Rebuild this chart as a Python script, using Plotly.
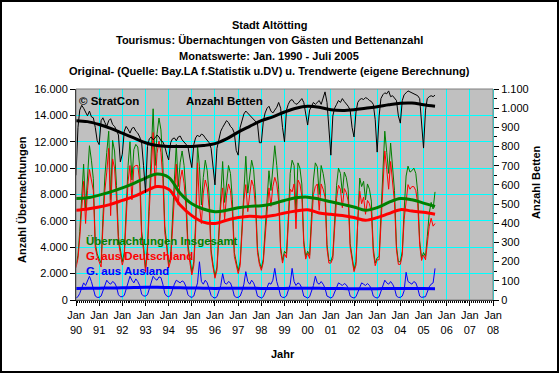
import pandas as pd
import plotly.graph_objects as go

# ---------------- data (monthly, Jan 1990 - Jul 2005) ----------------
start_month = "1990-01-01"

insgesamt = (
    [2600, 3400, 5200, 8100, 10300, 6900, 9800, 11700, 10600, 9200, 4300, 3500]      # 1990
    + [3100, 2800, 6200, 9400, 11200, 12800, 7600, 12100, 11300, 8700, 4800, 3900]   # 1991
    + [2900, 3600, 7100, 10200, 12000, 9100, 11400, 11800, 11600, 10100, 5200, 4100] # 1992
    + [2400, 4100, 7600, 11300, 14500, 10200, 12600, 13800, 12900, 10400, 5600, 4300]# 1993
    + [2700, 3300, 6400, 9100, 11800, 8600, 10400, 11300, 10200, 8000, 4200, 3100]   # 1994
    + [2100, 2900, 5800, 11700, 10100, 7200, 9300, 10600, 9800, 7900, 3800, 2700]    # 1995
    + [1800, 2500, 5100, 8300, 10500, 7400, 9100, 10200, 9600, 7600, 3600, 2800]     # 1996
    + [2200, 2900, 5400, 8800, 10900, 8100, 9200, 10600, 9900, 7900, 3900, 2900]     # 1997
    + [2400, 3100, 5300, 7600, 9800, 8300, 10100, 11700, 10200, 8400, 4000, 3000]    # 1998
    + [3700, 3500, 6100, 9600, 10600, 10200, 6500, 10400, 10000, 8800, 4500, 3300]   # 1999
    + [3700, 3400, 6300, 9100, 10400, 10100, 8000, 10200, 9600, 8700, 4200, 3000]    # 2000
    + [2950, 3400, 6000, 8700, 10000, 9600, 8100, 9700, 9300, 8400, 4300, 3200]      # 2001
    + [2300, 2900, 6600, 9250, 8600, 9000, 7600, 8800, 8400, 7500, 3900, 2800]       # 2002
    + [3200, 3300, 6400, 9800, 12800, 11200, 9600, 11900, 10100, 8300, 4100, 2900]   # 2003
    + [2900, 3700, 6800, 9400, 10150, 9700, 9800, 10000, 9600, 8200, 4500, 3200]     # 2004
    + [3600, 3300, 4800, 6600, 7400, 6900, 8200]                                     # 2005
)

deutschland = (
    [2450, 3150, 4700, 7200, 9000, 5800, 8300, 9900, 9200, 8300, 4000, 3300]
    + [2900, 2500, 5500, 8300, 9700, 11500, 6400, 10700, 10000, 7700, 4400, 3650]
    + [2650, 3250, 6300, 9000, 10200, 7600, 10100, 10200, 10200, 9000, 4750, 3800]
    + [2100, 3700, 6700, 9900, 12700, 8600, 11100, 12050, 11200, 9200, 5100, 4000]
    + [2450, 2950, 5600, 7900, 10300, 7200, 9100, 9850, 8850, 7000, 3800, 2850]
    + [1900, 2600, 5100, 10400, 7200, 5800, 8100, 9100, 8500, 7000, 3450, 2500]
    + [1650, 2250, 4500, 7200, 8500, 6100, 7900, 8800, 8300, 6700, 3300, 2600]
    + [2000, 2600, 4750, 7600, 8750, 6700, 8000, 9100, 8600, 7000, 3600, 2700]
    + [2250, 2850, 4700, 6600, 8500, 7100, 8600, 9300, 8800, 7500, 3700, 2800]
    + [3500, 3200, 5400, 8400, 8200, 8800, 5400, 9100, 8800, 7900, 4200, 3100]
    + [3550, 3150, 5600, 8000, 8600, 8800, 6800, 8800, 8400, 7800, 3900, 2800]
    + [2800, 3150, 5400, 7700, 8700, 8400, 7000, 8450, 8150, 7500, 4000, 3000]
    + [2150, 2650, 6000, 8250, 7300, 7800, 6500, 7550, 7300, 6650, 3600, 2600]
    + [3050, 3050, 5800, 8700, 11300, 9900, 8400, 10500, 8900, 7400, 3800, 2700]
    + [2700, 3400, 6100, 7300, 8750, 8400, 8600, 8600, 8300, 7300, 4200, 3000]
    + [3400, 3050, 4200, 5600, 6200, 5600, 5800]
)

ausland = (
    [150, 250, 500, 900, 1300, 1100, 1500, 1800, 1400, 900, 300, 200]
    + [200, 300, 700, 1100, 1500, 1300, 1200, 1400, 1300, 1000, 400, 250]
    + [250, 350, 800, 1200, 1800, 1500, 1300, 1600, 1400, 1100, 450, 300]
    + [300, 400, 900, 1400, 1800, 1600, 1500, 1750, 1700, 1200, 500, 300]
    + [250, 350, 800, 1200, 1500, 1400, 1300, 1450, 1350, 1000, 400, 250]
    + [200, 300, 700, 1300, 2900, 1400, 1200, 1500, 1300, 900, 350, 200]
    + [150, 250, 600, 1100, 2000, 1300, 1200, 1400, 1300, 900, 300, 200]
    + [200, 300, 650, 1200, 2150, 1400, 1200, 1500, 1300, 900, 300, 200]
    + [150, 250, 600, 1000, 1300, 1200, 1500, 2400, 1400, 900, 300, 200]
    + [200, 300, 700, 1200, 2400, 1400, 1100, 1300, 1200, 900, 300, 200]
    + [150, 250, 700, 1100, 1800, 1300, 1200, 1400, 1200, 900, 300, 200]
    + [150, 250, 600, 1000, 1300, 1200, 1100, 1250, 1150, 900, 300, 200]
    + [150, 250, 600, 1000, 1300, 1200, 1100, 1250, 1100, 850, 300, 200]
    + [150, 250, 600, 1100, 1500, 1300, 1200, 1400, 1200, 900, 300, 200]
    + [200, 300, 700, 2100, 1400, 1300, 1200, 1400, 1300, 900, 300, 200]
    + [200, 250, 600, 1000, 1200, 1300, 2400]
)

betten = (
    [650, 900, 990, 1015, 1000, 975, 960, 985, 955, 950, 900, 830]
    + [810, 935, 950, 925, 905, 935, 945, 915, 905, 885, 860, 720]
    + [760, 880, 905, 890, 870, 895, 900, 880, 870, 850, 820, 700]
    + [560, 800, 840, 850, 835, 845, 860, 850, 830, 825, 800, 760]
    + [730, 820, 840, 845, 830, 850, 855, 835, 825, 815, 800, 740]
    + [690, 810, 845, 860, 850, 865, 860, 845, 835, 820, 790, 700]
    + [600, 790, 840, 880, 900, 920, 935, 925, 905, 895, 870, 780]
    + [755, 900, 940, 970, 985, 975, 960, 950, 945, 935, 920, 820]
    + [820, 930, 975, 1000, 1010, 985, 975, 990, 1005, 1030, 1000, 900]
    + [825, 990, 1020, 1040, 1045, 1030, 1020, 1025, 1035, 1050, 1030, 960]
    + [912, 990, 1010, 1030, 1020, 1030, 1040, 1020, 1050, 1085, 1030, 880]
    + [755, 960, 1000, 1020, 1040, 1030, 1050, 1035, 1025, 1010, 990, 900]
    + [850, 980, 1030, 1045, 1050, 1045, 1055, 1050, 1040, 1035, 1020, 940]
    + [771, 960, 1050, 1070, 1080, 1075, 1090, 1060, 1065, 1055, 1040, 960]
    + [922, 1040, 1070, 1080, 1090, 1085, 1080, 1075, 1070, 1065, 1050, 930]
    + [792, 990, 1050, 1060, 1065, 1060, 1068]
)

# trend values (half-yearly, Jan & Jul, 1990 - Jul 2005)
trend_insgesamt = [7700, 7750, 7950, 8200, 8500, 8850, 9250, 9550, 9300, 8100,
                   7300, 6900, 6700, 6800, 7000, 7100, 7150, 7300, 7550, 7750,
                   7800, 7650, 7450, 7250, 7050, 6800, 7000, 7400, 7700, 7600,
                   7350, 7100]
trend_deutschland = [6800, 6900, 7050, 7250, 7550, 7850, 8250, 8600, 8400, 7200,
                     6400, 5900, 5800, 6050, 6250, 6350, 6300, 6400, 6600, 6750,
                     6850, 6600, 6500, 6400, 6250, 6050, 6250, 6550, 6850, 6750,
                     6650, 6500]
trend_ausland = [880, 890, 900, 910, 920, 940, 960, 960, 940, 920,
                 910, 900, 880, 890, 900, 890, 880, 880, 880, 890,
                 900, 890, 870, 865, 860, 860, 860, 870, 880, 880,
                 870, 860]
trend_betten = [935, 930, 915, 895, 870, 845, 820, 805, 800, 800,
                800, 805, 815, 840, 875, 905, 935, 955, 980, 1000,
                1010, 1005, 992, 988, 992, 1000, 1008, 1018, 1026, 1027,
                1018, 1010]

year_ticks = list(range(1990, 2009))
tick_labels = ["Jan<br>%02d" % (y % 100) for y in year_ticks]

title_lines = [
    "Stadt Altötting",
    "Tourismus: Übernachtungen von Gästen und Bettenanzahl",
    "Monatswerte: Jan. 1990 - Juli 2005",
    "Original- (Quelle: Bay.LA f.Statistik u.DV) u. Trendwerte (eigene Berechnung)",
]

# ---------------- figure ----------------
months = pd.date_range(start_month, periods=len(insgesamt), freq="MS")
half_years = pd.date_range(start_month, periods=len(trend_insgesamt), freq="6MS")
tickvals = [pd.Timestamp(f"{y}-01-01") for y in year_ticks]

FONT = "Liberation Sans, Arial, sans-serif"
GREEN, RED, BLUE, BLACK = "#008000", "#FF0000", "#0000FF", "#000000"
GRID = "#00FFFF"

fig = go.Figure()
fig.add_trace(go.Scatter(x=months, y=insgesamt, mode="lines",
                         line=dict(color=GREEN, width=1)))
fig.add_trace(go.Scatter(x=months, y=deutschland, mode="lines",
                         line=dict(color=RED, width=1)))
fig.add_trace(go.Scatter(x=months, y=ausland, mode="lines",
                         line=dict(color=BLUE, width=1)))
fig.add_trace(go.Scatter(x=months, y=betten, mode="lines", yaxis="y2",
                         line=dict(color=BLACK, width=1)))
fig.add_trace(go.Scatter(x=half_years, y=trend_insgesamt, mode="lines",
                         line=dict(color=GREEN, width=3, shape="spline")))
fig.add_trace(go.Scatter(x=half_years, y=trend_deutschland, mode="lines",
                         line=dict(color=RED, width=3, shape="spline")))
fig.add_trace(go.Scatter(x=half_years, y=trend_ausland, mode="lines",
                         line=dict(color=BLUE, width=3, shape="spline")))
fig.add_trace(go.Scatter(x=half_years, y=trend_betten, mode="lines", yaxis="y2",
                         line=dict(color=BLACK, width=3, shape="spline")))

W, H = 560, 374
L, R, T, B = 76, 67, 89, 74
pw, ph = W - L - R, H - T - B


def px(xp):
    return (xp - L) / pw


def py(yp):
    return (H - B - yp) / ph


annotations = []
for i, line in enumerate(title_lines):
    annotations.append(dict(text="<b>%s</b>" % line, x=px(269), y=py(25 + i * 15.3),
                            xref="paper", yref="paper", showarrow=False,
                            xanchor="center", yanchor="middle",
                            font=dict(size=11, color=BLACK, family=FONT)))

inner = [
    ("© StratCon", 77, 101, BLACK),
    ("Anzahl Betten", 184, 101, BLACK),
    ("Übernachtungen Insgesamt", 84, 241, GREEN),
    ("G. aus Deutschland", 84, 256, RED),
    ("G. aus Ausland", 84, 271, BLUE),
]
for txt, xx, yy, col in inner:
    annotations.append(dict(text="<b>%s</b>" % txt, x=px(xx), y=py(yy),
                            xref="paper", yref="paper", showarrow=False,
                            xanchor="left", yanchor="middle",
                            font=dict(size=11.5, color=col, family=FONT)))

annotations.append(dict(text="<b>Anzahl Übernachtungen</b>", x=px(22), y=py(200),
                        xref="paper", yref="paper", showarrow=False, textangle=-90,
                        xanchor="center", yanchor="middle",
                        font=dict(size=11, color=BLACK, family=FONT)))
annotations.append(dict(text="<b>Anzahl Betten</b>", x=px(536), y=py(182),
                        xref="paper", yref="paper", showarrow=False, textangle=-90,
                        xanchor="center", yanchor="middle",
                        font=dict(size=11, color=BLACK, family=FONT)))
annotations.append(dict(text="<b>Jahr</b>", x=px(283), y=py(354),
                        xref="paper", yref="paper", showarrow=False,
                        xanchor="center", yanchor="middle",
                        font=dict(size=11, color=BLACK, family=FONT)))

shapes = [
    # plot area frame
    dict(type="rect", xref="paper", yref="paper", x0=0, x1=1, y0=0, y1=1,
         line=dict(color="#808080", width=1), layer="above"),
    # outer chart border
    dict(type="rect", xref="paper", yref="paper",
         x0=px(1), x1=px(558), y0=py(372), y1=py(1),
         line=dict(color=BLACK, width=2), layer="above"),
]

fig.update_layout(
    width=W, height=H,
    margin=dict(l=L, r=R, t=T, b=B, pad=0),
    paper_bgcolor="white",
    plot_bgcolor="#C0C0C0",
    showlegend=False,
    separators=",.",
    font=dict(family=FONT, size=11, color=BLACK),
    annotations=annotations,
    shapes=shapes,
    xaxis=dict(
        type="date",
        range=[pd.Timestamp("1990-01-01"), pd.Timestamp("2008-01-01")],
        tickmode="array", tickvals=tickvals, ticktext=tick_labels,
        ticks="outside", ticklen=5, tickcolor=BLACK,
        showgrid=True, gridcolor=GRID, gridwidth=1,
        showline=True, linecolor=BLACK, linewidth=1,
        zeroline=False,
        minor=dict(dtick="M1", ticks="outside", ticklen=2, tickcolor=BLACK,
                   showgrid=False),
        tickfont=dict(size=11, family=FONT),
        fixedrange=True,
    ),
    yaxis=dict(
        range=[0, 16000], dtick=2000, tickformat=",d",
        ticks="outside", ticklen=5, tickcolor=BLACK,
        showgrid=True, gridcolor=GRID, gridwidth=1,
        showline=True, linecolor=BLACK, linewidth=1,
        zeroline=False,
        tickfont=dict(size=11, family=FONT),
    ),
    yaxis2=dict(
        overlaying="y", side="right",
        range=[0, 1100], dtick=100, tickformat=",d",
        ticks="outside", ticklen=5, tickcolor=BLACK,
        showgrid=False,
        showline=True, linecolor=GRID, linewidth=1,
        zeroline=False,
        minor=dict(dtick=50, ticks="outside", ticklen=3, tickcolor=BLACK),
        tickfont=dict(size=11, family=FONT),
    ),
)

fig.write_html(
    "out.html",
    config={"displayModeBar": False},
    post_script="document.body.style.margin='0';document.body.style.overflow='hidden';",
)
